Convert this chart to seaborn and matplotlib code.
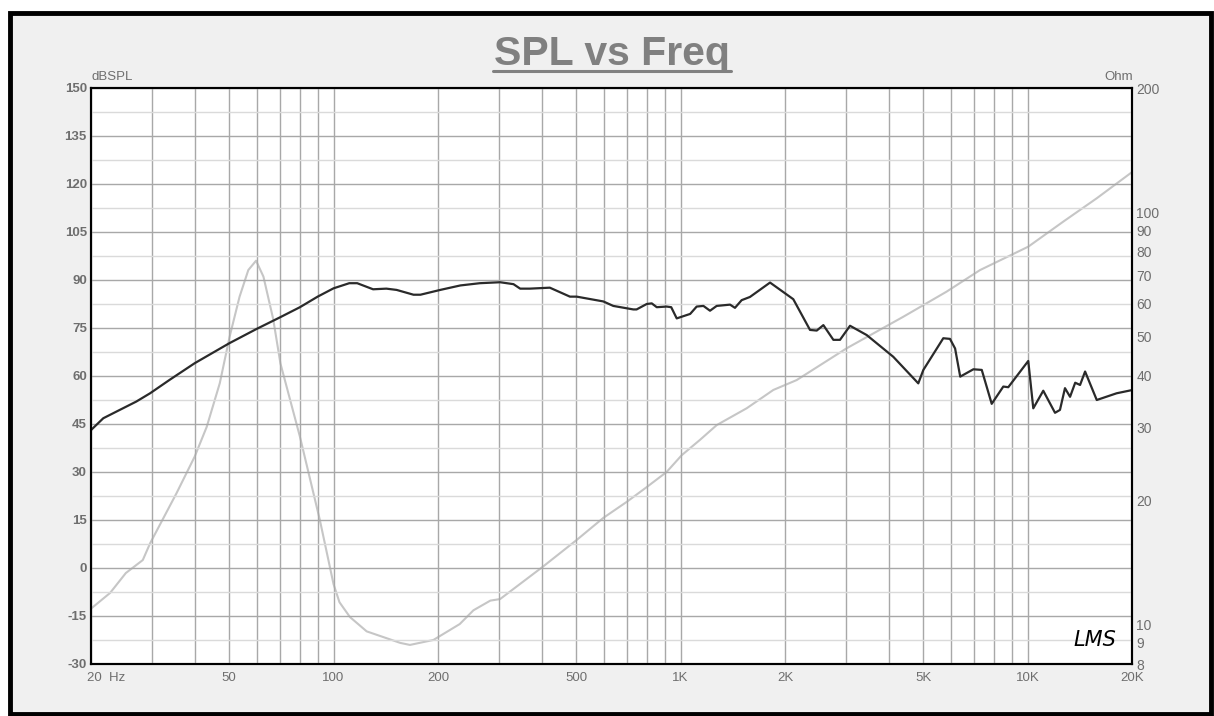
import matplotlib
matplotlib.use("Agg")
import matplotlib.pyplot as plt
import matplotlib.ticker as mticker
import matplotlib.transforms as mtransforms
from matplotlib.patches import Rectangle
from matplotlib.lines import Line2D
import seaborn as sns
import pandas as pd
import numpy as np

# SPL curve (Hz, dB)
spl_freq = [20, 21.7, 24.2, 27, 29.6, 33.7, 39.8, 50, 60, 70, 80, 90, 100, 111, 117,
            130, 142, 152, 170, 178, 203, 232, 264, 302, 330, 345, 368, 420, 480,
            502, 599, 640, 731, 747, 799, 826, 854, 912, 940, 975, 1019, 1066, 1113,
            1164, 1216, 1271, 1389, 1435, 1500, 1585, 1811, 2113, 2361, 2469, 2580,
            2757, 2881, 3079, 3439, 4103, 4843, 5009, 5717, 5977, 6183, 6397, 6981,
            7380, 7884, 8514, 8800, 10048, 10388, 11100, 12000, 12400, 12820, 13260,
            13720, 14170, 14650, 15830, 18060, 20000]
spl_db = [43.1, 46.8, 49.4, 52.0, 54.6, 58.8, 64.0, 70.2, 74.7, 78.3, 81.5, 84.8, 87.4, 89.0, 89.0,
          87.1, 87.3, 86.9, 85.4, 85.4, 86.9, 88.3, 89.0, 89.3, 88.7, 87.3, 87.3, 87.6, 84.8,
          84.8, 83.3, 81.9, 80.8, 80.8, 82.5, 82.7, 81.5, 81.7, 81.5, 78.0, 78.7, 79.4, 81.7,
          81.9, 80.4, 81.9, 82.3, 81.3, 83.7, 84.7, 89.2, 84.0, 74.4, 74.2, 75.9,
          71.3, 71.3, 75.7, 72.8, 66.0, 57.7, 61.9, 71.8, 71.6, 68.6, 59.8, 62.1,
          61.9, 51.3, 56.7, 56.5, 64.7, 49.9, 55.4, 48.5, 49.4, 56.2, 53.5,
          57.9, 57.2, 61.4, 52.5, 54.6, 55.6]

# impedance curve (Hz, Ohm)
imp_freq = [20, 22.7, 25.2, 28.2, 29.6, 35.3, 39.8, 43.1, 47, 50.2, 53.6, 56.8, 59.8,
            62.8, 67, 70.3, 80, 91.3, 100, 104, 111.5, 124.6, 155.8, 166, 194, 231,
            253, 283, 302, 402, 502, 599, 700, 799, 912, 1008, 1138, 1271, 1551,
            1851, 2161, 3011, 4385, 5846, 7295, 10048, 12680, 15830, 20000]
imp_ohm = [10.9, 11.9, 13.3, 14.3, 15.7, 20.8, 25.5, 30.1, 38.4, 49.9, 62.3, 72.3, 76.2,
           69.7, 55.0, 42.9, 28.5, 17.9, 12.5, 11.3, 10.4, 9.6, 9.0, 8.9, 9.15, 10.0,
           10.8, 11.4, 11.5, 13.8, 16.0, 18.1, 19.8, 21.5, 23.4, 25.7, 28.0, 30.4, 33.4,
           37.0, 39.1, 46.7, 55.7, 64.1, 72.3, 82.4, 94.8, 108, 125]

x_ticks = [20, 50, 100, 200, 500, 1000, 2000, 5000, 10000, 20000]
x_labels = ["20  Hz", "50", "100", "200", "500", "1K", "2K", "5K", "10K", "20K"]
spl_ticks = list(range(-30, 151, 15))
ohm_ticks = [8, 9, 10, 20, 30, 40, 50, 60, 70, 80, 90, 100, 200]
ohm_labels = [str(v) for v in ohm_ticks]

sns.set_theme(style="white")
plt.rcParams['font.family'] = ['Liberation Sans', 'DejaVu Sans']
plt.rcParams['axes.unicode_minus'] = False

label_color = '#6e6e6e'
W, H = 1214, 716

fig = plt.figure(figsize=(W / 100, H / 100), dpi=100)
fig.patch.set_facecolor('white')
fig.add_artist(Rectangle((9.5 / W, 2.5 / H), 1201 / W, 701 / H, transform=fig.transFigure,
                         facecolor='#f0f0f0', edgecolor='black', linewidth=3.5, zorder=-10))

ax = fig.add_axes([91 / W, 1 - 664 / H, 1041 / W, 576 / H])
ax2 = ax.twinx()

spl_df = pd.DataFrame({'freq': spl_freq, 'spl': spl_db})
imp_df = pd.DataFrame({'freq': imp_freq, 'ohm': imp_ohm})

sns.lineplot(data=spl_df, x='freq', y='spl', ax=ax, color='#2a2a2a', linewidth=1.6)
sns.lineplot(data=imp_df, x='freq', y='ohm', ax=ax2, color='#c6c6c6', linewidth=1.5)

# axes on top so the SPL line sits over the impedance line
ax.set_zorder(ax2.get_zorder() + 1)
ax.patch.set_visible(False)
ax2.patch.set_visible(True)
ax2.patch.set_facecolor('white')

ax.set_xscale('log')
ax.set_xlim(20, 20000)
ax.set_ylim(-30, 150)
ax2.set_yscale('log')
ax2.set_ylim(8, 200)

ax.set_xticks(x_ticks)
ax.set_xticklabels(x_labels)
ax.xaxis.set_minor_locator(mticker.LogLocator(base=10, subs=np.arange(1, 10), numticks=50))
ax.xaxis.set_minor_formatter(mticker.NullFormatter())
ax.set_yticks(spl_ticks)
ax.yaxis.set_minor_locator(mticker.FixedLocator([v + 7.5 for v in spl_ticks[:-1]]))

ax.grid(True, which='both', axis='x', color='#a8a8a8', linewidth=1.0)
ax.grid(True, which='major', axis='y', color='#a8a8a8', linewidth=1.0)
ax.grid(True, which='minor', axis='y', color='#dadada', linewidth=1.0)

ax2.set_yticks(ohm_ticks)
ax2.set_yticklabels(ohm_labels)
ax2.yaxis.set_minor_locator(mticker.NullLocator())
ax2.grid(False)

ax.tick_params(which='both', length=0)
ax.tick_params(axis='y', labelsize=9.5, labelcolor=label_color, pad=3)
ax.tick_params(axis='x', labelsize=9.5, labelcolor=label_color, pad=6)
ax2.tick_params(which='both', length=0, labelsize=10, labelcolor=label_color, pad=3)
for lbl in ax.get_yticklabels():
    lbl.set_fontweight('bold')
first = ax.get_xticklabels()[0]
first.set_horizontalalignment('left')
first.set_transform(first.get_transform() + mtransforms.ScaledTranslation(-4 / 100, 0, fig.dpi_scale_trans))

for a in (ax, ax2):
    a.set_xlabel('')
    a.set_ylabel('')
    for s in a.spines.values():
        s.set_color('black')
        s.set_linewidth(1.5)

fig.text(91 / W, 1 - 80.5 / H, 'dBSPL', ha='left', va='baseline', fontsize=9.5, color=label_color)
fig.text(1133 / W, 1 - 80.5 / H, 'Ohm', ha='right', va='baseline', fontsize=9.5, color=label_color)

fig.text(612 / W, 1 - 65 / H, 'SPL vs Freq', ha='center', va='baseline',
         fontsize=29.5, fontweight='bold', color='#808080')
fig.add_artist(Line2D([493 / W, 731 / W], [1 - 71.3 / H] * 2, color='#808080', linewidth=2.2))

ax.text(0.9645, 0.042, 'LMS', transform=ax.transAxes, ha='center', va='center',
        fontsize=15, fontstyle='italic', color='black', family='DejaVu Sans', zorder=5)

fig.savefig('out.png', dpi=100)
